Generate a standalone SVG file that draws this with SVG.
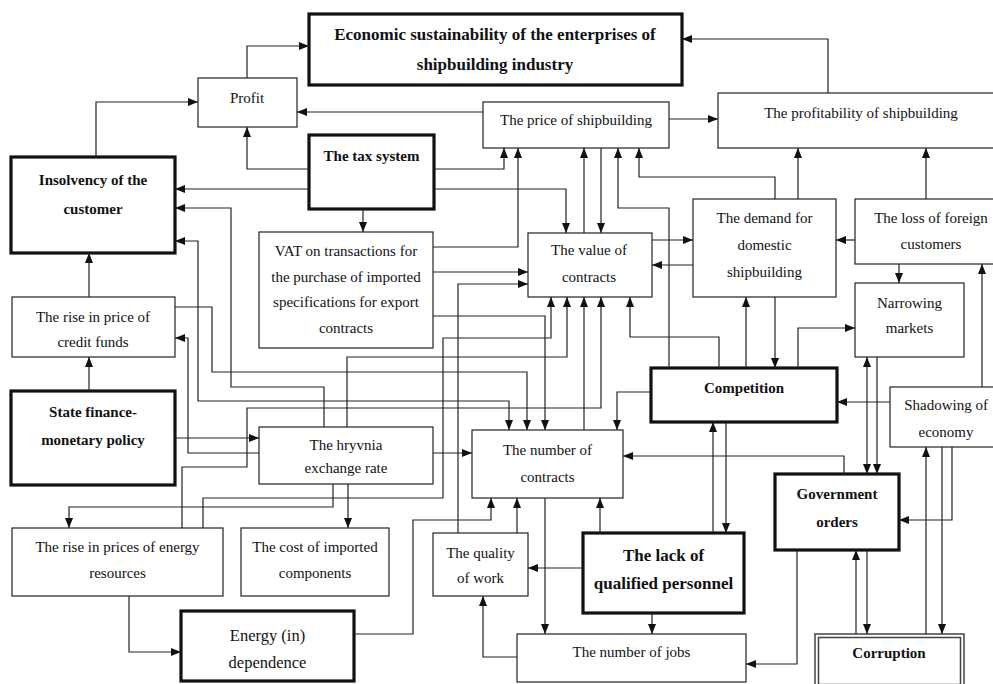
<svg xmlns="http://www.w3.org/2000/svg" width="993" height="684" viewBox="0 0 993 684">
<defs>
<style>
.box{fill:#fff;stroke:#222;stroke-width:1.2}
.thick{stroke-width:3.2;stroke:#111}
.t{font-family:"Liberation Serif","Times New Roman",serif;font-size:15px;text-anchor:middle;fill:#111}
.b{font-weight:bold}
.c{fill:none;stroke:#222;stroke-width:1.2;marker-end:url(#a)}
.d{marker-start:url(#a)}
</style>
<marker id="a" viewBox="0 0 10 8" refX="10" refY="4" markerWidth="10" markerHeight="8" markerUnits="userSpaceOnUse" orient="auto-start-reverse">
<path d="M0,0 L10,4 L0,8 z" fill="#111"/>
</marker>
</defs>
<rect width="993" height="684" fill="#fff"/>

<g id="econ"><rect class="box thick" x="309" y="14" width="373" height="71"/>
<text class="t b" x="495" y="40" style="font-size:17px">Economic sustainability of the enterprises of</text>
<text class="t b" x="495" y="70" style="font-size:17px">shipbuilding industry</text></g>

<g id="profit"><rect class="box" x="198" y="78" width="99" height="49"/>
<text class="t" x="247" y="103">Profit</text></g>

<g id="price"><rect class="box" x="483" y="102" width="186" height="46"/>
<text class="t" x="576" y="125">The price of shipbuilding</text></g>

<g id="profitability"><rect class="box" x="718" y="93" width="286" height="55"/>
<text class="t" x="861" y="118">The profitability of shipbuilding</text></g>

<g id="tax"><rect class="box thick" x="309" y="135" width="125" height="74"/>
<text class="t b" x="371.5" y="161">The tax system</text></g>

<g id="insolvency"><rect class="box thick" x="11" y="157" width="164" height="96"/>
<text class="t b" x="93" y="185">Insolvency of the</text>
<text class="t b" x="93" y="214">customer</text></g>

<g id="vat"><rect class="box" x="259" y="232" width="174" height="116"/>
<text class="t" x="346" y="256">VAT on transactions for</text>
<text class="t" x="346" y="282">the purchase of imported</text>
<text class="t" x="346" y="307">specifications for export</text>
<text class="t" x="346" y="333">contracts</text></g>

<g id="value"><rect class="box" x="528" y="233" width="124" height="64"/>
<text class="t" x="589" y="255">The value of</text>
<text class="t" x="589" y="282">contracts</text></g>

<g id="demand"><rect class="box" x="693" y="199" width="143" height="98"/>
<text class="t" x="764.5" y="223">The demand for</text>
<text class="t" x="764.5" y="250">domestic</text>
<text class="t" x="764.5" y="277">shipbuilding</text></g>

<g id="loss"><rect class="box" x="855" y="199" width="150" height="65"/>
<text class="t" x="931" y="223">The loss of foreign</text>
<text class="t" x="931" y="249">customers</text></g>

<g id="narrowing"><rect class="box" x="855" y="283" width="109" height="74"/>
<text class="t" x="909.5" y="308">Narrowing</text>
<text class="t" x="909.5" y="333">markets</text></g>

<g id="credit"><rect class="box" x="12" y="297" width="163" height="60"/>
<text class="t" x="93" y="322">The rise in price of</text>
<text class="t" x="93" y="347">credit funds</text></g>

<g id="state"><rect class="box thick" x="11" y="391" width="164" height="94"/>
<text class="t b" x="93" y="417">State finance-</text>
<text class="t b" x="93" y="445">monetary policy</text></g>

<g id="hryvnia"><rect class="box" x="259" y="427" width="174" height="57"/>
<text class="t" x="346" y="450">The hryvnia</text>
<text class="t" x="346" y="473">exchange rate</text></g>

<g id="number"><rect class="box" x="472" y="430" width="151" height="68"/>
<text class="t" x="547.5" y="455">The number of</text>
<text class="t" x="547.5" y="482">contracts</text></g>

<g id="competition"><rect class="box thick" x="651" y="368" width="186" height="54"/>
<text class="t b" x="744" y="393">Competition</text></g>

<g id="shadowing"><rect class="box" x="890" y="387" width="115" height="60"/>
<text class="t" x="946" y="410">Shadowing of</text>
<text class="t" x="946" y="437">economy</text></g>

<g id="government"><rect class="box thick" x="775" y="474" width="124" height="76"/>
<text class="t b" x="837" y="499">Government</text>
<text class="t b" x="837" y="527">orders</text></g>

<g id="energyprices"><rect class="box" x="12" y="528" width="211" height="68"/>
<text class="t" x="117.5" y="552">The rise in prices of energy</text>
<text class="t" x="117.5" y="578">resources</text></g>

<g id="cost"><rect class="box" x="241" y="528" width="148" height="68"/>
<text class="t" x="315" y="552">The cost of imported</text>
<text class="t" x="315" y="578">components</text></g>

<g id="quality"><rect class="box" x="433" y="533" width="95" height="63"/>
<text class="t" x="480.5" y="558">The quality</text>
<text class="t" x="480.5" y="583">of work</text></g>

<g id="lack"><rect class="box thick" x="583" y="533" width="161" height="80"/>
<text class="t b" x="663.5" y="561" style="font-size:17px">The lack of</text>
<text class="t b" x="663.5" y="589" style="font-size:17px">qualified personnel</text></g>

<g id="energydep"><rect class="box thick" x="181" y="611" width="173" height="70"/>
<text class="t" x="267.5" y="641" style="font-size:16.5px">Energy (in)</text>
<text class="t" x="267.5" y="668" style="font-size:16.5px">dependence</text></g>

<g id="jobs"><rect class="box" x="517" y="634" width="229" height="48"/>
<text class="t" x="631.5" y="657">The number of jobs</text></g>

<g id="corruption"><rect x="815" y="634" width="149" height="54" fill="#fff" stroke="#444" stroke-width="1.5"/>
<rect x="818.5" y="637.5" width="142" height="47" fill="none" stroke="#444" stroke-width="1.5"/>
<text class="t b" x="889" y="658">Corruption</text></g>

<g id="connectors">
<path class="c" d="M247,78 V46 H309"/>
<path class="c" d="M96,157 V102 H198"/>
<path class="c" d="M483,112 H297"/>
<path class="c" d="M828,93 V39 H682"/>
<path class="c" d="M669,119 H718"/>
<path class="c" d="M309,169 H247 V127"/>
<path class="c" d="M309,189 H175"/>
<path class="c" d="M324,427 V387 H231 V208 H175"/>
<path class="c" d="M363,209 V232"/>
<path class="c" d="M434,169 H504 V148"/>
<path class="c" d="M434,189 H566 V233"/>
<path class="c" d="M433,247 H518 V148"/>
<path class="c" d="M601,148 V233"/>
<path class="c" d="M584,233 V148"/>
<path class="c" d="M669,368 V208 H618 V148"/>
<path class="c" d="M775,199 V177 H639 V148"/>
<path class="c" d="M798,199 V148"/>
<path class="c" d="M926,199 V148"/>
<path class="c" d="M433,272 H528"/>
<path class="c" d="M458,533 V284 H528"/>
<path class="c" d="M652,240 H693"/>
<path class="c" d="M693,265 H652"/>
<path class="c" d="M855,240 H836"/>
<path class="c" d="M899,264 V283"/>
<path class="c" d="M798,368 V328 H855"/>
<path class="c" d="M775,297 V368"/>
<path class="c" d="M746,368 V297"/>
<path class="c" d="M719,368 V337 H630 V297"/>
<path class="c" d="M890,402 H837"/>
<path class="c" d="M982,387 V264"/>
<path class="c" d="M584,430 V297"/>
<path class="c" d="M203,528 V498 H443 V338 H551 V297"/>
<path class="c" d="M347,427 V357 H567 V297"/>
<path class="c" d="M182,528 V467 H247 V408 H601 V297"/>
<path class="c" d="M433,316 H545 V430"/>
<path class="c" d="M175,307 H212 V372 H527 V430"/>
<path class="c d" d="M175,241 H198 V401 H509 V430"/>
<path class="c" d="M651,392 H617 V430"/>
<path class="c" d="M433,453 H472"/>
<path class="c" d="M844,474 V456 H623"/>
<path class="c" d="M89,297 V253"/>
<path class="c" d="M89,391 V357"/>
<path class="c" d="M175,438 H259"/>
<path class="c" d="M259,453 H188 V338 H175"/>
<path class="c" d="M333,484 V507 H69 V528"/>
<path class="c" d="M348,484 V528"/>
<path class="c" d="M129,596 V652 H181"/>
<path class="c" d="M354,634 H413 V520 H491 V498"/>
<path class="c" d="M517,533 V498"/>
<path class="c" d="M600,533 V498"/>
<path class="c" d="M583,568 H528"/>
<path class="c" d="M545,498 V634"/>
<path class="c" d="M652,613 V634"/>
<path class="c" d="M517,657 H483 V596"/>
<path class="c" d="M797,550 V664 H746"/>
<path class="c" d="M713,533 V422"/>
<path class="c" d="M726,422 V533"/>
<path class="c d" d="M867,474 V357"/>
<path class="c" d="M877,357 V474"/>
<path class="c" d="M856,634 V550"/>
<path class="c" d="M867,550 V634"/>
<path class="c" d="M926,634 V447"/>
<path class="c" d="M942,447 V634"/>
<path class="c" d="M952,447 V520 H899"/>
</g>
</svg>
